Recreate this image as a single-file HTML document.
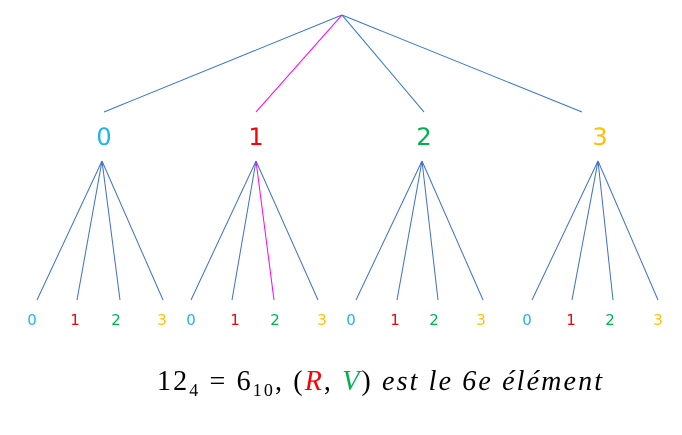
<!DOCTYPE html>
<html><head><meta charset="utf-8">
<style>
html,body{margin:0;padding:0;background:#fff;}
svg{display:block;}
.lbl{font-family:"DejaVu Sans","Liberation Sans",sans-serif;}
</style></head>
<body>
<svg width="682" height="435" viewBox="0 0 682 435">
<g id="lines"></g>
<g id="labels"></g>
<text x="157" y="390" font-family="Liberation Serif, serif" font-size="28" fill="#000" textLength="445" lengthAdjust="spacing">12<tspan font-size="18" dy="6">4</tspan><tspan dy="-6"> = 6</tspan><tspan font-size="18" dy="6">10</tspan><tspan dy="-6">, (</tspan><tspan font-style="italic" fill="#ff0000">R</tspan><tspan>, </tspan><tspan font-style="italic" fill="#00b050">V</tspan><tspan>) </tspan><tspan font-style="italic">est le 6e élément</tspan></text>
</svg>
<script>
const digits=['0','1','2','3'];
const colors=['#1eb4ee','#ff0000','#00b050','#ffc000'];
const highlightPath=[1,2];
const root=[342,15];
const l1End=[[104,112],[256,112],[424,112],[582,112]];
const l1Label=[104,256,424,600];
const l1Top=[102,256,422,598];
const leafEnds=[[37,77,120,163],[191,232,274,318],[356,397,438,483],[532,572,613,658]];
const leafLbl=[[32,75,116,162],[191,235,275,322],[351,395,434,481],[527,571,610,658]];
const NS='http://www.w3.org/2000/svg';
const lines=document.getElementById('lines'), labels=document.getElementById('labels');
function line(x1,y1,x2,y2,c,name){
 const l=document.createElementNS(NS,'line');
 l.setAttribute('x1',x1);l.setAttribute('y1',y1);l.setAttribute('x2',x2);l.setAttribute('y2',y2);
 l.setAttribute('stroke',c);l.setAttribute('stroke-width','1');
 
 
 lines.appendChild(l);
}
function txt(x,y,s,c,fs,name){
 const t=document.createElementNS(NS,'text');
 t.setAttribute('x',x);t.setAttribute('y',y);t.setAttribute('fill',c);
 t.setAttribute('font-size',fs);t.setAttribute('text-anchor','middle');t.setAttribute('class','lbl');
 t.textContent=s;
 
 
 labels.appendChild(t);
}
for(let i=0;i<4;i++){
 const hi=i===highlightPath[0];
 line(root[0],root[1],l1End[i][0],l1End[i][1],hi?'#ff00ff':'#3478c8','edge-root-'+i);
 txt(l1Label[i],145,digits[i],colors[i],24,'level1-label-'+i);
 for(let j=0;j<4;j++){
  const h2=hi&&j===highlightPath[1];
  line(l1Top[i],161,leafEnds[i][j],300,h2?'#ff00ff':'#3f6fc6','edge-'+i+'-'+j);
  txt(leafLbl[i][j],325,digits[j],colors[j],15,'leaf-label-'+i+'-'+j);
 }
}
</script>
</body></html>
